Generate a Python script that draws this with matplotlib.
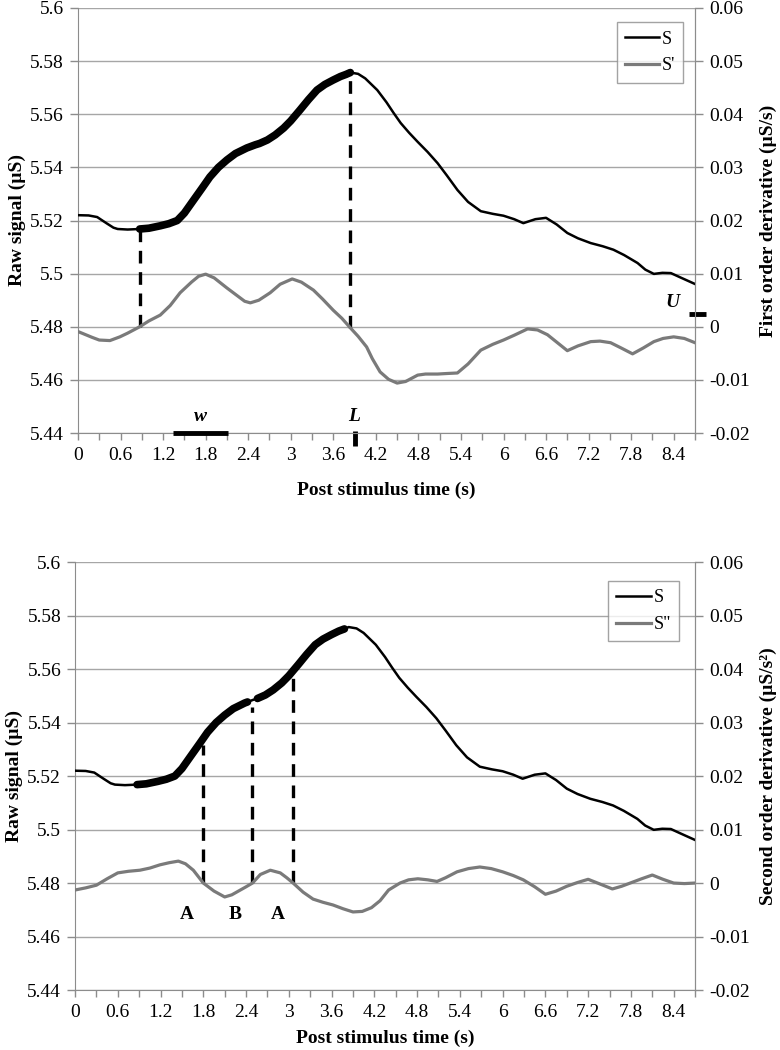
import numpy as np
import matplotlib.pyplot as plt

plt.rcParams['font.family'] = ['Liberation Serif', 'DejaVu Serif']

# raw skin conductance signal (uS), same trace in both panels
t_s = [0, 0.15, 0.27, 0.4, 0.5, 0.56, 0.7, 0.87, 1.0, 1.16, 1.28, 1.4, 1.5, 1.63, 1.75,
       1.86, 1.98, 2.1, 2.22, 2.38, 2.42, 2.5, 2.56, 2.67, 2.78, 2.9, 3.0, 3.13, 3.25,
       3.37, 3.48, 3.6, 3.7, 3.78, 3.84, 3.95, 4.05, 4.22, 4.35, 4.45, 4.55, 4.67, 4.79,
       4.93, 5.07, 5.2, 5.35, 5.5, 5.68, 5.85, 6.0, 6.15, 6.28, 6.45, 6.6, 6.75, 6.9,
       7.05, 7.23, 7.4, 7.55, 7.7, 7.89, 8.0, 8.12, 8.24, 8.36, 8.5, 8.7]
s_raw = [5.522, 5.5219, 5.5213, 5.519, 5.5173, 5.5168, 5.5166, 5.5168, 5.5171, 5.518,
         5.5188, 5.520, 5.5228, 5.5277, 5.5322, 5.5364, 5.540, 5.5428, 5.5452, 5.5473,
         5.5477, 5.5485, 5.5490, 5.5503, 5.5522, 5.5548, 5.5575, 5.5616, 5.5655, 5.5691,
         5.5712, 5.5729, 5.5742, 5.575, 5.5757, 5.5752, 5.5735, 5.5691, 5.5645, 5.5605,
         5.5567, 5.5530, 5.5496, 5.5458, 5.5416, 5.537, 5.5315, 5.527, 5.5235, 5.5225,
         5.5218, 5.5205, 5.519, 5.5205, 5.521, 5.5185, 5.5153, 5.5133, 5.5115, 5.5103,
         5.509, 5.507, 5.504, 5.5015, 5.4999, 5.5003, 5.5002, 5.4985, 5.4961]

# first order derivative (uS/s)
t_d1 = [0, 0.2, 0.3, 0.45, 0.59, 0.7, 0.87, 1.0, 1.16, 1.3, 1.44, 1.6, 1.7, 1.8, 1.92,
        2.1, 2.25, 2.35, 2.43, 2.55, 2.71, 2.85, 3.02, 3.15, 3.32, 3.45, 3.6, 3.72, 3.84,
        3.95, 4.07, 4.15, 4.26, 4.38, 4.5, 4.62, 4.79, 4.9, 5.07, 5.2, 5.35, 5.5, 5.68,
        5.85, 6.0, 6.15, 6.34, 6.48, 6.62, 6.76, 6.9, 7.05, 7.23, 7.36, 7.51, 7.66, 7.82,
        7.97, 8.12, 8.25, 8.4, 8.55, 8.7]
d1 = [-0.0009, -0.0020, -0.0025, -0.0026, -0.0019, -0.0012, 0.0, 0.0011, 0.0022, 0.0040,
      0.0064, 0.0084, 0.0095, 0.0099, 0.0092, 0.0073, 0.0058, 0.0048, 0.0045, 0.0050,
      0.0064, 0.0080, 0.0090, 0.0084, 0.0069, 0.0052, 0.0031, 0.0016, -0.0002, -0.0018,
      -0.0038, -0.0060, -0.0085, -0.0099, -0.0106, -0.0103, -0.0091, -0.0089, -0.0089,
      -0.0088, -0.0087, -0.0070, -0.0044, -0.0033, -0.0025, -0.0016, -0.0004, -0.0006,
      -0.0015, -0.0030, -0.0045, -0.0036, -0.0028, -0.0027, -0.0030, -0.0040, -0.0051,
      -0.0040, -0.0028, -0.0022, -0.0019, -0.0022, -0.0030]

# second order derivative (uS/s^2)
t_d2 = [0, 0.15, 0.3, 0.45, 0.6, 0.75, 0.91, 1.05, 1.19, 1.32, 1.45, 1.55, 1.66, 1.73,
        1.8, 1.95, 2.1, 2.2, 2.32, 2.4, 2.49, 2.6, 2.74, 2.88, 2.97, 3.06, 3.2, 3.34,
        3.48, 3.62, 3.76, 3.9, 4.03, 4.16, 4.28, 4.4, 4.56, 4.68, 4.81, 4.95, 5.08, 5.2,
        5.36, 5.52, 5.68, 5.84, 6.0, 6.15, 6.29, 6.45, 6.6, 6.75, 6.9, 7.05, 7.2, 7.37,
        7.54, 7.67, 7.79, 7.95, 8.1, 8.25, 8.4, 8.55, 8.7]
d2 = [-0.0013, -0.0009, -0.0004, 0.0008, 0.0019, 0.0022, 0.0024, 0.0028, 0.0034, 0.0038,
      0.0041, 0.0036, 0.0024, 0.0012, 0.0, -0.0015, -0.0026, -0.0022, -0.0013, -0.0007,
      0.0, 0.0016, 0.0024, 0.0019, 0.0010, 0.0, -0.0017, -0.0030, -0.0036, -0.0041,
      -0.0048, -0.0054, -0.0053, -0.0046, -0.0033, -0.0013, 0.0, 0.0006, 0.0008, 0.0006,
      0.0003, 0.0010, 0.0021, 0.0027, 0.0030, 0.0027, 0.0021, 0.0014, 0.0006, -0.0007,
      -0.0021, -0.0015, -0.0006, 0.0001, 0.0007, -0.0002, -0.0011, -0.0006, 0.0, 0.0008,
      0.0015, 0.0007, 0.0, -0.0001, 0.0]

x_labels = ['0', '0.6', '1.2', '1.8', '2.4', '3', '3.6', '4.2', '4.8', '5.4', '6',
            '6.6', '7.2', '7.8', '8.4']
left_labels = ['5.44', '5.46', '5.48', '5.5', '5.52', '5.54', '5.56', '5.58', '5.6']
right_labels = ['-0.02', '-0.01', '0', '0.01', '0.02', '0.03', '0.04', '0.05', '0.06']

# annotations
top_segments = [(0.87, 3.84)]
top_marks = [0.87, 3.84]
w_span = [1.34, 2.12]
L_time = 3.9
U_level = 0.0024
bot_segments = [(0.87, 2.42), (2.56, 3.78)]
bot_marks = [1.8, 2.49, 3.06]
ab_text = ['A', 'B', 'A']
ab_time = [1.57, 2.25, 2.84]

grey = '#8c8c8c'
gline = '#7a7a7a'

t_s = np.array(t_s)
s_raw = np.array(s_raw)


def to_left(v):
    return 5.44 + (np.asarray(v) + 0.02) / 0.08 * 0.16


def setup(ax, ax2, right_title, xpad):
    ax.set_xlim(0, 8.7)
    ax.set_ylim(5.44, 5.6)
    ax2.set_ylim(-0.02, 0.06)
    ax.set_xticks(np.arange(15) * 0.6)
    ax.set_xticklabels(x_labels)
    ax.set_xticks(np.arange(15) * 0.6 + 0.3, minor=True)
    ax.set_yticks(np.linspace(5.44, 5.6, 9))
    ax.set_yticklabels(left_labels)
    ax2.set_yticks(np.linspace(-0.02, 0.06, 9))
    ax2.set_yticklabels(right_labels)
    ax.yaxis.grid(True, color='#a6a6a6', lw=1)
    ax.set_axisbelow(True)
    for a in (ax, ax2):
        a.spines['top'].set_visible(False)
        for sp in ('left', 'right', 'bottom'):
            a.spines[sp].set_color(grey)
        a.tick_params(which='both', colors=grey, labelcolor='black', labelsize=14,
                      length=6, width=1, pad=4)
    ax.tick_params(axis='x', which='both', length=5, pad=5)
    ax2.spines['left'].set_visible(False)
    ax2.spines['bottom'].set_visible(False)
    ax.set_xlabel('Post stimulus time (s)', fontsize=14, fontweight='bold', labelpad=xpad)
    ax.set_ylabel('Raw signal (µS)', fontsize=14, fontweight='bold', labelpad=3)
    ax2.set_ylabel(right_title, fontsize=14, fontweight='bold', labelpad=7)


fig = plt.figure(figsize=(7.8, 10.5), dpi=100)

# ---- top panel: S and S'
ax = fig.add_axes([0.1, 0.5876, 0.791, 0.4048])
ax2 = ax.twinx()
setup(ax, ax2, 'First order derivative (µS/s)', 13)
l1, = ax2.plot(t_s, np.nan * t_s, color='black', lw=1.8)  # legend proxy
ax.plot(t_s, s_raw, color='black', lw=1.8, zorder=3)
for a, b in top_segments:
    m = (t_s >= a - 1e-9) & (t_s <= b + 1e-9)
    ax.plot(t_s[m], s_raw[m], color='black', lw=5.5, solid_capstyle='round',
            solid_joinstyle='round', zorder=3)
for tm in top_marks:
    ax.plot([tm, tm], [to_left(np.interp(tm, t_d1, d1)), np.interp(tm, t_s, s_raw)],
            color='black', lw=2.4, dashes=(3.8, 2.6), zorder=4)
l2, = ax2.plot(t_d1, d1, color=gline, lw=2.3, solid_joinstyle='round')
ax.plot(w_span, [5.44, 5.44], color='black', lw=3.5, clip_on=False, zorder=5,
        solid_capstyle='butt')
ax.text(np.mean(w_span), 5.4432, 'w', ha='center', va='bottom', fontsize=14,
        fontweight='bold', style='italic')
ax.plot([L_time, L_time], [5.4408, 5.4352], color='black', lw=3.5, clip_on=False,
        solid_capstyle='butt')
ax.text(L_time, 5.4432, 'L', ha='center', va='bottom', fontsize=14,
        fontweight='bold', style='italic')
ax2.plot([8.61, 8.86], [U_level, U_level], color='black', lw=3.5, clip_on=False,
         solid_capstyle='butt')
ax2.text(8.38, U_level + 0.0021, 'U', ha='center', va='center', fontsize=14,
         fontweight='bold', style='italic')
leg = ax2.legend([l1, l2], ['S', "S'"], loc='upper right', bbox_to_anchor=(0.981, 0.966),
                 fontsize=13, frameon=True, fancybox=False, edgecolor=grey,
                 handlelength=1.9, handletextpad=0.15, borderpad=0.45, labelspacing=0.55,
                 borderaxespad=0)
leg.get_frame().set_linewidth(1)

# ---- bottom panel: S and S''
bx = fig.add_axes([0.0962, 0.0571, 0.7949, 0.4076])
bx2 = bx.twinx()
setup(bx, bx2, 'Second order derivative (µS/s²)', 6)
m1, = bx2.plot(t_s, np.nan * t_s, color='black', lw=1.8)
bx.plot(t_s, s_raw, color='black', lw=1.8, zorder=3)
for a, b in bot_segments:
    m = (t_s >= a - 1e-9) & (t_s <= b + 1e-9)
    bx.plot(t_s[m], s_raw[m], color='black', lw=5.5, solid_capstyle='round',
            solid_joinstyle='round', zorder=3)
for tm in bot_marks:
    bx.plot([tm, tm], [to_left(np.interp(tm, t_d2, d2)), np.interp(tm, t_s, s_raw) - 0.0025],
            color='black', lw=2.4, dashes=(3.8, 2.6), zorder=4)
m2, = bx2.plot(t_d2, d2, color=gline, lw=2.3, solid_joinstyle='round')
for txt, tt in zip(ab_text, ab_time):
    bx.text(tt, 5.4684, txt, ha='center', va='center', fontsize=14, fontweight='bold')
leg = bx2.legend([m1, m2], ['S', 'S"'], loc='upper right', bbox_to_anchor=(0.974, 0.956),
                 fontsize=13, frameon=True, fancybox=False, edgecolor=grey,
                 handlelength=1.9, handletextpad=0.15, borderpad=0.45, labelspacing=0.55,
                 borderaxespad=0)
leg.get_frame().set_linewidth(1)

fig.savefig('out.png', dpi=100)
